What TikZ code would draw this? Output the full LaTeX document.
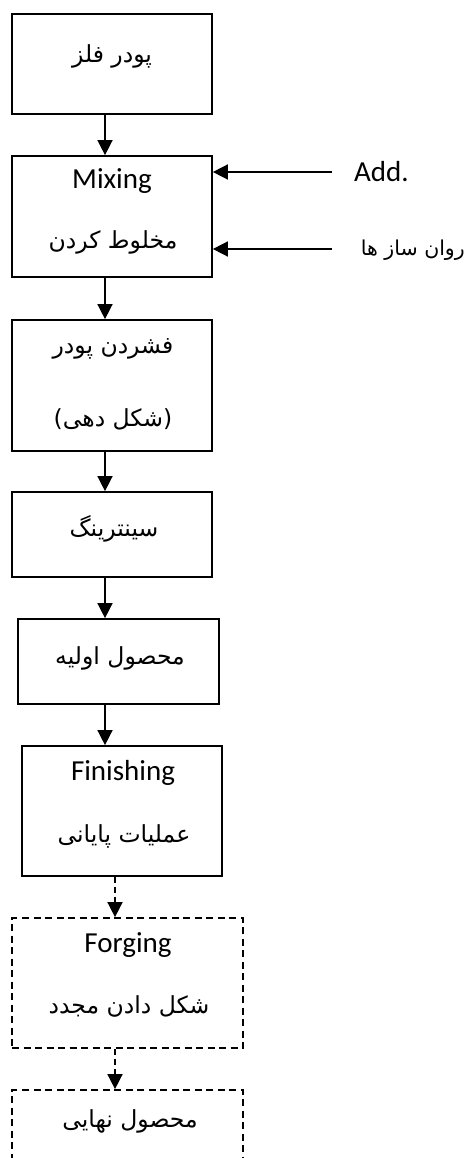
\documentclass[tikz,border=0pt]{standalone}
\usepackage{fontspec}
\setmainfont{Carlito}
\newfontfamily\fa[Script=Arabic]{DejaVu Sans}
\TeXXeTstate=1
\usetikzlibrary{arrows.meta}
\tikzset{
  box/.style={draw, line width=1.7pt, inner sep=0pt},
  optbox/.style={box, dash pattern=on 7pt off 4.5pt},
  en/.style={font=\fontsize{29}{31}\selectfont, inner sep=0pt},
  pe/.style={font=\fa\fontsize{23.5}{26}\selectfont, inner sep=0pt},
  flow/.style={line width=1.5pt, -{Triangle[length=15pt,width=15pt]}},
  optflow/.style={flow, dash pattern=on 6pt off 4pt},
}
\begin{document}
\begin{tikzpicture}[x=1pt,y=-1pt]
\useasboundingbox (0,0) rectangle (469,1158);
\clip (0,0) rectangle (469,1158);

% process boxes
\node[box, minimum width=200pt, minimum height=100pt] (b1) at (112,64) {};
\node[box, minimum width=200pt, minimum height=121pt] (b2) at (112,216.5) {};
\node[box, minimum width=200pt, minimum height=131pt] (b3) at (112,385.5) {};
\node[box, minimum width=200pt, minimum height=85pt] (b4) at (112,534.5) {};
\node[box, minimum width=201pt, minimum height=85pt] (b5) at (118.5,661.5) {};
\node[box, minimum width=200pt, minimum height=130pt] (b6) at (122,811) {};
\node[optbox, minimum width=231pt, minimum height=130pt] (b7) at (127.5,983) {};
\node[optbox, minimum width=231pt, minimum height=130pt] (b8) at (127.5,1155) {};

% box labels
\node[pe] (t1) at (112,56) {\beginR پودر فلز\endR};
\node[en] (t2a) at (112,181) {Mixing};
\node[pe] (t2b) at (113,242) {\beginR مخلوط کردن\endR};
\node[pe] (t3a) at (113,349) {\beginR فشردن پودر\endR};
\node[pe] (t3b) at (113,419) {\beginR (شکل دهی)\endR};
\node[pe] (t4) at (114,529) {\beginR سینترینگ\endR};
\node[pe] (t5) at (120,658) {\beginR محصول اولیه\endR};
\node[en] (t6a) at (123,773) {Finishing};
\node[pe] (t6b) at (124,836) {\beginR عملیات پایانی\endR};
\node[en] (t7a) at (128,945) {Forging};
\node[pe] (t7b) at (129,1006) {\beginR شکل دادن مجدد\endR};
\node[pe] (t8) at (130,1121) {\beginR محصول نهایی\endR};

% side inputs
\node[en, anchor=west] (add) at (354,172) {Add.};
\node[pe, font=\fa\fontsize{20.5}{24}\selectfont, anchor=east] (lub) at (465,250) {\beginR روان ساز ها\endR};
\coordinate (addsrc) at (332,172);
\coordinate (lubsrc) at (332,249);
\draw[flow] (addsrc) -- (addsrc -| b2.east);
\draw[flow] (lubsrc) -- (lubsrc -| b2.east);

% main flow
\coordinate (spine) at (105,0);
\coordinate (optspine) at (115,0);
\draw[flow] (b1.south -| spine) -- (b2.north -| spine);
\draw[flow] (b2.south -| spine) -- (b3.north -| spine);
\draw[flow] (b3.south -| spine) -- (b4.north -| spine);
\draw[flow] (b4.south -| spine) -- (b5.north -| spine);
\draw[flow] (b5.south -| spine) -- (b6.north -| spine);
\draw[optflow] (b6.south -| optspine) -- (b7.north -| optspine);
\draw[optflow] (b7.south -| optspine) -- (b8.north -| optspine);
\end{tikzpicture}
\end{document}
